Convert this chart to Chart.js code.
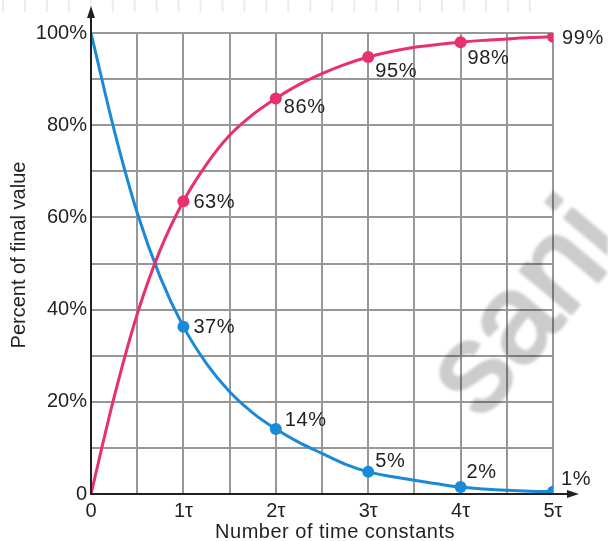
<!DOCTYPE html>
<html><head><meta charset="utf-8">
<script src="https://cdn.jsdelivr.net/npm/chart.js@4/dist/chart.umd.min.js"></script>
<style>html,body{margin:0;padding:0;background:#fff;}#wrap{width:608px;height:541px;position:relative}</style>
</head><body><div id="wrap"><canvas id="c" width="608" height="541"></canvas></div>
<script>
const timeConstants = [0,0.25,0.5,0.75,1,1.25,1.5,1.75,2,2.25,2.5,2.75,3,3.25,3.5,3.75,4,4.25,4.5,4.75,5];
const chargeCurve = [0,21,39,53,63.5,71.5,77.8,82.3,85.8,88.8,91.2,93.2,94.8,96,96.9,97.5,98,98.4,98.7,99,99.2];
const dischargeCurve = [100,79,61,47,36.3,28.3,22.2,17.6,14.1,11.2,8.8,6.5,4.8,3.8,3,2.2,1.5,1.1,0.8,0.6,0.5];
const markerTimes = [1,2,3,4,5];
const chargeMarks = [63.5,85.8,94.8,98,99.2];
const dischargeMarks = [36.3,14.1,4.8,1.5,0.5];
const chargeLabels = ['63%','86%','95%','98%','99%'];
const dischargeLabels = ['37%','14%','5%','2%','1%'];
const xTickLabels = ['0','1τ','2τ','3τ','4τ','5τ'];
const yTickLabels = ['0','20%','40%','60%','80%','100%'];
const xTitle = 'Number of time constants';
const yTitle = 'Percent of final value';
const watermarkText = 'sani';

const PINK = '#e8306c';
const BLUE = '#1a8ad8';
const INK = '#231f20';
const FONT = '"Liberation Sans", Arial, sans-serif';

const pts = (xs, ys) => xs.map((x, i) => ({x, y: ys[i]}));

const labelOffsets = {
  charge: [[10,1],[8,9],[7,15],[7,16],[9,2]],
  discharge: [[10,1],[9,-9],[7,-10],[6,-15],[8,-12]]
};

const decor = {
  id: 'decor',
  beforeDraw(chart) {
    const {ctx} = chart;
    ctx.save();
    ctx.fillStyle = '#fff';
    ctx.fillRect(0, 0, chart.width, chart.height);
    ctx.strokeStyle = '#ececec';
    ctx.lineWidth = 2;
    for (let x = 3; x <= 530; x += 21.95) {
      ctx.beginPath(); ctx.moveTo(x, 0); ctx.lineTo(x, 12); ctx.stroke();
    }
    ctx.restore();
  },
  afterDraw(chart) {
    const {ctx, scales} = chart;
    const xs = scales.x, ys = scales.y;
    const x0 = xs.getPixelForValue(0), y0 = ys.getPixelForValue(0);
    ctx.save();
    // axes
    ctx.strokeStyle = INK; ctx.fillStyle = INK; ctx.lineWidth = 2;
    ctx.beginPath(); ctx.moveTo(x0, y0 + 1); ctx.lineTo(x0, 14); ctx.stroke();
    ctx.beginPath(); ctx.moveTo(x0 - 1, y0); ctx.lineTo(572, y0); ctx.stroke();
    ctx.beginPath(); ctx.moveTo(x0, 6); ctx.lineTo(x0 - 4, 18); ctx.lineTo(x0 + 4, 18); ctx.closePath(); ctx.fill();
    ctx.beginPath(); ctx.moveTo(579, y0); ctx.lineTo(567, y0 - 4); ctx.lineTo(567, y0 + 4); ctx.closePath(); ctx.fill();
    // value labels
    ctx.font = '20px ' + FONT;
    ctx.letterSpacing = '0.6px';
    ctx.textAlign = 'left'; ctx.textBaseline = 'middle';
    const drawLabels = (dsIndex, labels, offs) => {
      const meta = chart.getDatasetMeta(dsIndex);
      meta.data.forEach((el, i) => {
        ctx.fillText(labels[i], el.x + offs[i][0], el.y + offs[i][1]);
      });
    };
    drawLabels(2, chargeLabels, labelOffsets.charge);
    drawLabels(3, dischargeLabels, labelOffsets.discharge);
    // axis titles
    ctx.letterSpacing = '0.5px';
    ctx.textAlign = 'center'; ctx.textBaseline = 'alphabetic';
    ctx.fillText(xTitle, 335, 538);
    ctx.letterSpacing = '0px';
    ctx.save();
    ctx.translate(25, 255);
    ctx.rotate(-Math.PI / 2);
    ctx.fillText(yTitle, 0, 0);
    ctx.restore();
    // watermark (drawn solid offscreen, then composited translucently)
    const off = document.createElement('canvas');
    off.width = chart.width; off.height = chart.height;
    const o = off.getContext('2d');
    o.translate(481, 421);
    o.rotate(-50 * Math.PI / 180);
    o.font = '125px ' + FONT;
    o.fillStyle = '#000'; o.strokeStyle = '#000'; o.lineWidth = 4; o.lineJoin = 'round';
    o.textAlign = 'left'; o.textBaseline = 'alphabetic';
    o.fillText(watermarkText, 0, 0);
    o.strokeText(watermarkText, 0, 0);
    ctx.globalAlpha = 0.2;
    ctx.filter = 'blur(1.5px)';
    ctx.drawImage(off, 0, 0);
    ctx.restore();
  }
};

new Chart(document.getElementById('c'), {
  type: 'line',
  data: {
    datasets: [
      {data: pts(timeConstants, chargeCurve), borderColor: PINK, borderWidth: 3, pointRadius: 0, cubicInterpolationMode: 'monotone', fill: false},
      {data: pts(timeConstants, dischargeCurve), borderColor: BLUE, borderWidth: 3, pointRadius: 0, cubicInterpolationMode: 'monotone', fill: false},
      {data: pts(markerTimes, chargeMarks), showLine: false, pointRadius: 6, pointBackgroundColor: PINK, pointBorderColor: PINK, pointBorderWidth: 0},
      {data: pts(markerTimes, dischargeMarks), showLine: false, pointRadius: 6, pointBackgroundColor: BLUE, pointBorderColor: BLUE, pointBorderWidth: 0}
    ]
  },
  options: {
    responsive: false,
    animation: false,
    devicePixelRatio: 1,
    layout: {padding: {top: 33, right: 55, left: 0, bottom: 0}},
    plugins: {legend: {display: false}, tooltip: {enabled: false}},
    scales: {
      x: {
        type: 'linear', min: 0, max: 5,
        afterFit(s) { s.height = 47; },
        border: {display: false},
        grid: {color: '#979797', lineWidth: 2, drawTicks: false},
        ticks: {stepSize: 0.5, autoSkip: false, maxRotation: 0, padding: 5, color: INK, font: {size: 20, family: FONT},
          callback: v => Number.isInteger(v) ? xTickLabels[v] : ''}
      },
      y: {
        type: 'linear', min: 0, max: 100,
        afterFit(s) { s.width = 91; },
        border: {display: false},
        grid: {color: '#979797', lineWidth: 2, drawTicks: false},
        ticks: {stepSize: 10, autoSkip: false, padding: 4, color: INK, font: {size: 20, family: FONT},
          callback: v => (v % 20 === 0) ? yTickLabels[v / 20] : ''}
      }
    }
  },
  plugins: [decor]
});
</script></body></html>
